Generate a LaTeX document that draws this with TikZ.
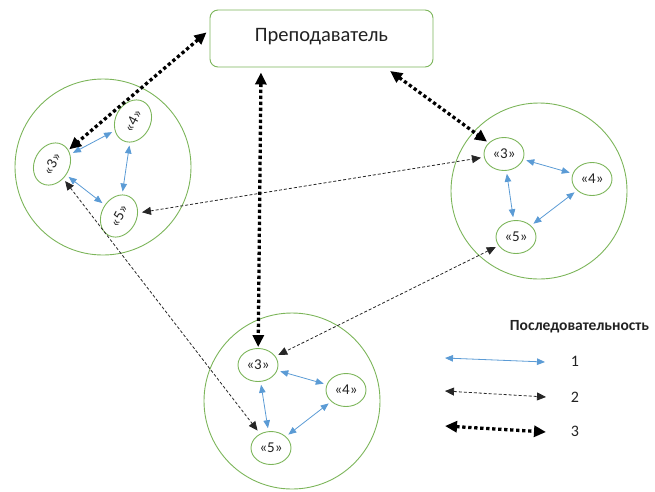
\documentclass[tikz,border=0pt]{standalone}
\usepackage{fontspec}
\setmainfont{Carlito}
\usetikzlibrary{shapes.geometric,arrows.meta,calc}
\definecolor{grn}{HTML}{7CB55A}
\definecolor{blu}{HTML}{5B9BD5}
\definecolor{txt}{HTML}{222222}
\begin{document}
\begin{tikzpicture}[x=1pt,y=-1pt,
 group/.style={circle,draw=grn,line width=0.9pt,minimum size=176pt,inner sep=0pt},
 grade/.style={ellipse,draw=grn,line width=0.9pt,minimum width=40pt,minimum height=33pt,inner sep=0pt,text=txt,font=\fontsize{15}{15}\selectfont},
 tgrade/.style={grade,minimum width=44pt,minimum height=35pt,rotate=62},
 seqone/.style={blu,line width=0.8pt,{Triangle[length=8pt,width=6.5pt]}-{Triangle[length=8pt,width=6.5pt]}},
 seqtwo/.style={black!85,line width=0.8pt,dash pattern=on 3pt off 2pt,{Triangle[length=9pt,width=8pt]}-{Triangle[length=9pt,width=8pt]}},
 seqthree/.style={black,line width=3.3pt,dash pattern=on 3.3pt off 2.7pt,{Triangle[length=12pt,width=11pt]}-{Triangle[length=12pt,width=11pt]}},
 teacher/.style={draw=grn,line width=0.9pt,rounded corners=8pt,fill=white,minimum width=223pt,minimum height=57pt,inner sep=0pt,text=txt,font=\fontsize{20.5}{20.5}\selectfont},
 lbl/.style={text=txt,inner sep=0pt,font=\fontsize{16}{16}\selectfont}
]
\useasboundingbox (0,0) rectangle (655,491);

% teacher
\node[teacher] (T) at (321.5,38.5) {\raisebox{7pt}{Преподаватель}};

% groups
\node[group] (L) at (103,167) {};
\node[group] (R) at (539,191) {};
\node[group] (B) at (292,401) {};

% left group (tilted)
\node[tgrade] (L3) at (52,164) {«3»};
\node[tgrade] (L4) at (133,121) {«4»};
\node[tgrade] (L5) at (119,216) {«5»};

% right group
\node[grade] (R3) at (504,154) {«3»};
\node[grade] (R4) at (592,179) {«4»};
\node[grade] (R5) at (516,237) {«5»};

% bottom group
\node[grade] (B3) at (258,365) {«3»};
\node[grade] (B4) at (346,390) {«4»};
\node[grade] (B5) at (271,448) {«5»};

% sequence 1
\draw[seqone,shorten <=3pt,shorten >=3pt] (L3) -- (L4);
\draw[seqone,shorten <=3pt,shorten >=3pt] (L4) -- (L5);
\draw[seqone,shorten <=3pt,shorten >=3pt] (L3) -- (L5);
\draw[seqone,shorten <=3pt,shorten >=3pt] (R3) -- (R4);
\draw[seqone,shorten <=3pt,shorten >=3pt] (R3) -- (R5);
\draw[seqone,shorten <=3pt,shorten >=3pt] (R4) -- (R5);
\draw[seqone,shorten <=3pt,shorten >=3pt] (B3) -- (B4);
\draw[seqone,shorten <=3pt,shorten >=3pt] (B3) -- (B5);
\draw[seqone,shorten <=3pt,shorten >=3pt] (B4) -- (B5);

% sequence 2
\draw[seqtwo,shorten <=4pt,shorten >=3pt] (L5) -- (R3);
\draw[seqtwo,shorten <=3pt,shorten >=3pt] (R5) -- (B3);
\draw[seqtwo,shorten <=3pt,shorten >=4pt] (L3) -- (B5);

% sequence 3
\draw[seqthree,shorten <=4pt,shorten >=1pt] ($(T.north west)!0.35!(T.south west)$) -- (L3);
\draw[seqthree,shorten <=5pt,shorten >=1pt] ($(T.south west)!0.23!(T.south east)$) -- (B3);
\draw[seqthree,shorten <=6pt,shorten >=2pt] ($(T.south west)!0.785!(T.south east)$) -- (R3);

% legend
\node[lbl,font=\bfseries\fontsize{15.5}{15.5}\selectfont] (LT) at (579.5,327) {Последовательность};
\coordinate (a1) at (445,358); \coordinate (b1) at (545,362);
\coordinate (a2) at (445,391); \coordinate (b2) at (546,397);
\coordinate (a3) at (445,426); \coordinate (b3) at (546,432);
\draw[seqone] (a1) -- (b1);
\draw[seqtwo] (a2) -- (b2);
\draw[seqthree] (a3) -- (b3);
\node[lbl] (n1) at (575,361) {1};
\node[lbl] (n2) at (575,397) {2};
\node[lbl] (n3) at (575,431) {3};
\end{tikzpicture}
\end{document}
